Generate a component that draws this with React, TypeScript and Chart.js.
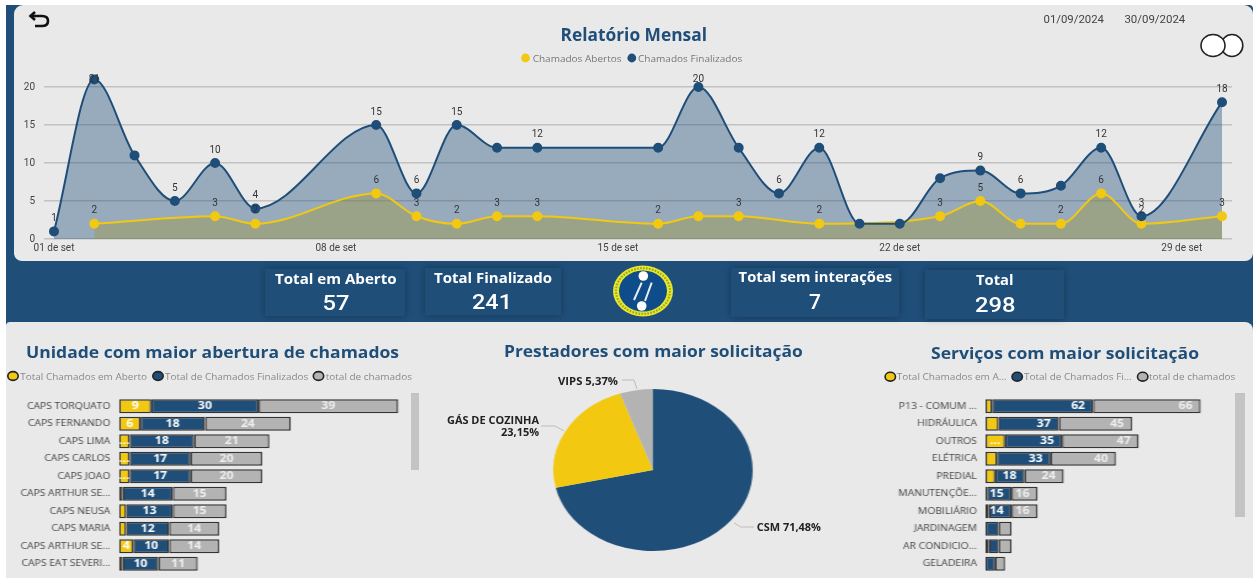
import React, { useEffect, useRef } from "react";
import { Chart, registerables } from "chart.js";

Chart.register(...registerables);

const NAVY = "#1F4E79";
const YELLOW = "#F2C811";
const GRAY = "#B3B3B3";
const PANEL = "#E9E9E9";
const STRETCH = 1.231;

// Monthly report
const finalDays = [1, 2, 3, 4, 5, 6, 9, 10, 11, 12, 13, 16, 17, 18, 19, 20, 21, 22, 23, 24, 25, 26, 27, 28, 30];
const finalValues = [1, 21, 11, 5, 10, 4, 15, 6, 15, 12, 12, 12, 20, 12, 6, 12, 2, 2, 8, 9, 6, 7, 12, 3, 18];
const finalLabelDays = [1, 2, 4, 5, 6, 9, 10, 11, 13, 17, 19, 20, 24, 25, 27, 28, 30];
const openDays = [2, 5, 6, 9, 10, 11, 12, 13, 16, 17, 18, 20, 23, 24, 25, 26, 27, 28, 30];
const openValues = [2, 3, 2, 6, 3, 2, 3, 3, 2, 3, 3, 2, 3, 5, 2, 2, 6, 2, 3];
const openLabelDays = [2, 5, 6, 9, 10, 11, 12, 13, 16, 18, 20, 23, 24, 26, 27, 28, 30];
const dayTicks = [1, 8, 15, 22, 29];
const dayTickLabels = ["01 de set", "08 de set", "15 de set", "22 de set", "29 de set"];

// Units
const unitNames = ["CAPS TORQUATO", "CAPS FERNANDO", "CAPS LIMA", "CAPS CARLOS", "CAPS JOAO", "CAPS ARTHUR SE...", "CAPS NEUSA", "CAPS MARIA", "CAPS ARTHUR SE...", "CAPS EAT SEVERI..."];
const unitOpen = [9, 6, 3, 3, 3, 1, 2, 2, 4, 1];
const unitFinal = [30, 18, 18, 17, 17, 14, 13, 12, 10, 10];
const unitTotal = [39, 24, 21, 20, 20, 15, 15, 14, 14, 11];
const unitOpenLabels = ["9", "6", "…", "…", "…", "", "", "", "4", ""];
const unitFinalLabels = ["30", "18", "18", "17", "17", "14", "13", "12", "10", "10"];
const unitTotalLabels = ["39", "24", "21", "20", "20", "15", "15", "14", "14", "11"];

// Services
const serviceNames = ["P13 - COMUM ...", "HIDRÁULICA", "OUTROS", "ELÉTRICA", "PREDIAL", "MANUTENÇÕE...", "MOBILIÁRIO", "JARDINAGEM", "AR CONDICIO...", "GELADEIRA"];
const serviceOpen = [4, 8, 12, 7, 6, 1, 2, 0, 2, 0];
const serviceFinal = [62, 37, 35, 33, 18, 15, 14, 8, 6, 6];
const serviceTotal = [66, 45, 47, 40, 24, 16, 16, 8, 8, 6];
const serviceOpenLabels = ["", "", "…", "", "", "", "", "", "", ""];
const serviceFinalLabels = ["62", "37", "35", "33", "18", "15", "14", "", "", ""];
const serviceTotalLabels = ["66", "45", "47", "40", "24", "16", "16", "", "", ""];

// Providers
const providerNames = ["CSM", "GÁS DE COZINHA", "VIPS"];
const providerValues = [213, 69, 16];

const clearPadding = (s: any) => {
  s.paddingTop = 0;
  s.paddingBottom = 0;
  s.paddingLeft = 0;
  s.paddingRight = 0;
};

const pointLabelPlugin = {
  id: "pointLabels",
  afterDatasetsDraw(chart: any) {
    const { ctx } = chart;
    ctx.save();
    ctx.font = "10px Roboto";
    ctx.fillStyle = "#333";
    ctx.textAlign = "center";
    ctx.textBaseline = "middle";
    const shown = [finalLabelDays, openLabelDays];
    const days = [finalDays, openDays];
    const vals = [finalValues, openValues];
    [1, 0].forEach((ds) => {
      const meta = chart.getDatasetMeta(ds);
      days[ds].forEach((d, i) => {
        if (!shown[ds].includes(d)) return;
        const el = meta.data[i];
        ctx.fillText(String(vals[ds][i]), el.x, Math.max(el.y - 13, 19));
      });
    });
    ctx.restore();
  },
};

function barLabelPlugin(labels: string[][], endAlign: boolean) {
  return {
    id: "barLabels",
    afterDatasetsDraw(chart: any) {
      const { ctx } = chart;
      ctx.save();
      ctx.font = "bold 10px 'Open Sans'";
      ctx.textBaseline = "middle";
      labels.forEach((row, ds) => {
        const meta = chart.getDatasetMeta(ds);
        ctx.fillStyle = ds === 2 ? "#EFEFEF" : "#FFFFFF";
        row.forEach((t, i) => {
          if (!t) return;
          const el = meta.data[i];
          if (endAlign && t !== "…") {
            ctx.textAlign = "right";
            ctx.fillText(t, el.x - 6.5, el.y);
          } else {
            ctx.textAlign = "center";
            ctx.fillText(t, (el.x + el.base) / 2, el.y);
          }
        });
      });
      ctx.restore();
    },
  };
}

function useLineChart(ref: React.RefObject<HTMLCanvasElement | null>) {
  useEffect(() => {
    const chart = new Chart(ref.current as HTMLCanvasElement, {
      type: "line",
      data: {
        datasets: [
          {
            label: "Chamados Finalizados",
            data: finalDays.map((d, i) => ({ x: d, y: finalValues[i] })),
            borderColor: NAVY,
            backgroundColor: "rgba(31,78,121,0.4)",
            pointBackgroundColor: NAVY,
            pointBorderColor: NAVY,
            pointRadius: 4,
            borderWidth: 2,
            fill: "origin",
            cubicInterpolationMode: "monotone",
          },
          {
            label: "Chamados Abertos",
            data: openDays.map((d, i) => ({ x: d, y: openValues[i] })),
            borderColor: YELLOW,
            backgroundColor: "rgba(242,200,17,0.4)",
            pointBackgroundColor: YELLOW,
            pointBorderColor: YELLOW,
            pointRadius: 4,
            borderWidth: 2,
            fill: "origin",
            cubicInterpolationMode: "monotone",
          },
        ],
      },
      options: {
        responsive: false,
        animation: false,
        layout: { autoPadding: false, padding: { top: 11.8, right: 21, left: 0, bottom: 0 } },
        plugins: { legend: { display: false }, tooltip: { enabled: false }, filler: { drawTime: "beforeDatasetsDraw" } },
        scales: {
          x: {
            type: "linear",
            min: 0.752,
            max: 30.248,
            grid: { display: false, drawTicks: false },
            border: { display: false },
            afterBuildTicks: (s: any) => {
              s.ticks = dayTicks.map((v) => ({ value: v }));
            },
            afterFit: (s: any) => {
              s.height = 22;
              clearPadding(s);
            },
            ticks: {
              autoSkip: false,
              maxRotation: 0,
              padding: 3,
              color: "#444",
              font: { size: 10, family: "Roboto" },
              callback: (v: any) => dayTickLabels[dayTicks.indexOf(Number(v))] ?? "",
            },
          },
          y: {
            min: 0,
            max: 22,
            grid: { color: "#C2C2C2", lineWidth: 1.4, drawTicks: false },
            border: { display: false },
            afterFit: (s: any) => {
              s.width = 44;
              clearPadding(s);
            },
            ticks: { stepSize: 5, includeBounds: false, padding: 9, color: "#444", font: { size: 10, family: "Roboto" } },
          },
        },
      } as any,
      plugins: [pointLabelPlugin],
    } as any);
    return () => chart.destroy();
  }, []);
}

function useBarChart(
  ref: React.RefObject<HTMLCanvasElement | null>,
  names: string[],
  open: number[],
  fin: number[],
  total: number[],
  labels: string[][],
  endAlign: boolean,
  axisWidth: number,
  xMax: number,
) {
  useEffect(() => {
    const common = { borderColor: "#333333", borderWidth: 1.4, borderSkipped: false, barPercentage: 0.79, categoryPercentage: 1 };
    const chart = new Chart(ref.current as HTMLCanvasElement, {
      type: "bar",
      data: {
        labels: names,
        datasets: [
          { label: "Total Chamados em Aberto", data: open, backgroundColor: YELLOW, ...common },
          { label: "Total de Chamados Finalizados", data: fin, backgroundColor: NAVY, ...common },
          { label: "total de chamados", data: total, backgroundColor: GRAY, ...common },
        ],
      },
      options: {
        indexAxis: "y",
        responsive: false,
        animation: false,
        layout: { autoPadding: false, padding: { top: 7.5, bottom: 5.5, left: 0, right: 0 } },
        plugins: { legend: { display: false }, tooltip: { enabled: false } },
        scales: {
          x: { stacked: true, min: 0, max: xMax, display: false },
          y: {
            stacked: true,
            grid: { display: false, drawTicks: false },
            border: { display: false },
            afterFit: (s: any) => {
              s.width = axisWidth;
              clearPadding(s);
            },
            ticks: { autoSkip: false, padding: 7, color: "#444", font: { size: 8.4, family: "'Open Sans'" } },
          },
        },
      } as any,
      plugins: [barLabelPlugin(labels, endAlign)],
    } as any);
    return () => chart.destroy();
  }, []);
}

function usePieChart(ref: React.RefObject<HTMLCanvasElement | null>) {
  useEffect(() => {
    const chart = new Chart(ref.current as HTMLCanvasElement, {
      type: "pie",
      data: {
        labels: providerNames,
        datasets: [{ data: providerValues, backgroundColor: [NAVY, YELLOW, GRAY], borderWidth: 0 }],
      },
      options: {
        responsive: false,
        animation: false,
        layout: { padding: 4 },
        plugins: { legend: { display: false }, tooltip: { enabled: false } },
      },
    } as any);
    return () => chart.destroy();
  }, []);
}

type TProps = { x: number; x2: number; y: number; size: number; fill: string; weight?: number; family?: string; children: string };
function T({ x, x2, y, size, fill, weight = 400, family = "'Open Sans'", children }: TProps) {
  return (
    <text
      x={x}
      y={y}
      textLength={x2 - x}
      lengthAdjust="spacingAndGlyphs"
      dominantBaseline="central"
      fontSize={size}
      fontWeight={weight}
      fontFamily={family}
      fill={fill}
    >
      {children}
    </text>
  );
}

function Dot({ cx, cy, fill }: { cx: number; cy: number; fill: string }) {
  return <ellipse cx={cx} cy={cy} rx={5.2} ry={4.4} fill={fill} stroke="#222" strokeWidth={1.6} />;
}

const cardStyle = (left: number, top: number, w: number, h: number): React.CSSProperties => ({
  position: "absolute",
  left,
  top,
  width: w,
  height: h,
  background: NAVY,
  boxShadow: "0 0 7px rgba(0,0,0,0.3)",
});

export default function App() {
  const lineRef = useRef<HTMLCanvasElement>(null);
  const unitRef = useRef<HTMLCanvasElement>(null);
  const serviceRef = useRef<HTMLCanvasElement>(null);
  const pieRef = useRef<HTMLCanvasElement>(null);
  useLineChart(lineRef);
  useBarChart(unitRef, unitNames, unitOpen, unitFinal, unitTotal, [unitOpenLabels, unitFinalLabels, unitTotalLabels], false, 119 / STRETCH, 81.6);
  useBarChart(serviceRef, serviceNames, serviceOpen, serviceFinal, serviceTotal, [serviceOpenLabels, serviceFinalLabels, serviceTotalLabels], true, 125.5 / STRETCH, 153.4);
  usePieChart(pieRef);

  const abs = (l: number, t: number): React.CSSProperties => ({ position: "absolute", left: l, top: t, display: "block" });

  return (
    <div style={{ position: "fixed", left: 0, top: 0, width: 1253, height: 578, overflow: "hidden", background: "#fff", filter: "blur(0.5px)" }}>
      <div style={{ position: "absolute", left: 6, top: 5, width: 1247, height: 573, background: NAVY, borderTopRightRadius: 4 }} />
      <div style={{ position: "absolute", left: 14, top: 5, width: 1239, height: 256, background: PANEL, borderRadius: "9px 9px 8px 8px" }} />
      <div style={{ position: "absolute", left: 6, top: 322, width: 1247, height: 256, background: PANEL, borderRadius: "4px 8px 0 0" }} />

      <div style={cardStyle(265, 269, 140, 47)} />
      <div style={cardStyle(425, 268, 136, 47)} />
      <div style={cardStyle(731, 268, 168, 49)} />
      <div style={cardStyle(925, 270, 139, 49)} />

      <canvas ref={lineRef} width={1253} height={201} style={abs(0, 60)} />

      <div style={{ position: "absolute", left: 0, top: 390, transformOrigin: "0 0", transform: `scaleX(${STRETCH})` }}>
        <canvas ref={unitRef} width={334} height={188} style={{ display: "block" }} />
      </div>
      <div style={{ position: "absolute", left: 860, top: 390, transformOrigin: "0 0", transform: `scaleX(${STRETCH})` }}>
        <canvas ref={serviceRef} width={305} height={188} style={{ display: "block" }} />
      </div>
      <div style={{ position: "absolute", left: 568, top: 385, width: 170, height: 170, transform: `scaleX(${STRETCH})` }}>
        <canvas ref={pieRef} width={170} height={170} style={{ display: "block" }} />
      </div>

      <div style={{ position: "absolute", left: 411, top: 393, width: 8, height: 77, background: "#C4C4C4" }} />
      <div style={{ position: "absolute", left: 1235, top: 393, width: 10, height: 124, background: "#C4C4C4" }} />

      <svg width={1253} height={578} style={{ position: "absolute", left: 0, top: 0, pointerEvents: "none" }}>
        {/* back arrow */}
        <path d="M31 16 H42 Q48 16 48 21 Q48 26 42 26 H35 M35 12 L30.5 16 L35 20" fill="none" stroke="#111" strokeWidth={2.6} />

        <T x={560.5} x2={707} y={34} size={17} weight={700} fill={NAVY}>Relatório Mensal</T>
        <circle cx={525.5} cy={58} r={4.4} fill={YELLOW} />
        <T x={532.7} x2={621.5} y={58.5} size={9.5} fill="#777">Chamados Abertos</T>
        <circle cx={631.8} cy={58} r={4.4} fill={NAVY} />
        <T x={638} x2={742.3} y={58.5} size={9.5} fill="#777">Chamados Finalizados</T>

        <T x={1043.5} x2={1104} y={19.5} size={11} fill="#444" family="Roboto">01/09/2024</T>
        <T x={1124.4} x2={1185.3} y={19.5} size={11} fill="#444" family="Roboto">30/09/2024</T>

        <ellipse cx={1232} cy={45.5} rx={10.8} ry={11} fill="#fff" stroke="#222" strokeWidth={1.6} />
        <ellipse cx={1213} cy={45.5} rx={12} ry={11} fill="#fff" stroke="#222" strokeWidth={1.6} />

        {/* KPI cards */}
        <T x={275} x2={396.6} y={279} size={13.5} weight={700} fill="#fff">Total em Aberto</T>
        <T x={322.5} x2={349.5} y={303} size={21} weight={500} fill="#fff" family="Roboto">57</T>
        <T x={434} x2={552} y={278} size={13.5} weight={700} fill="#fff">Total Finalizado</T>
        <T x={472} x2={512} y={302} size={21} weight={500} fill="#fff" family="Roboto">241</T>
        <T x={738.6} x2={892} y={277} size={13.5} weight={700} fill="#fff">Total sem interações</T>
        <T x={809} x2={821} y={302} size={21} weight={500} fill="#fff" family="Roboto">7</T>
        <T x={976} x2={1013.4} y={280} size={13.5} weight={700} fill="#fff">Total</T>
        <T x={975} x2={1015.5} y={305} size={21} weight={500} fill="#fff" family="Roboto">298</T>

        {/* logo */}
        <ellipse cx={643} cy={291} rx={30} ry={25.5} fill="#E6E62A" />
        <ellipse cx={643} cy={291} rx={27} ry={22.8} fill="none" stroke="#5A6A2A" strokeWidth={2} strokeDasharray="1.6 1.4" opacity={0.55} />
        <ellipse cx={643} cy={291} rx={24} ry={20.5} fill="#0F4C8A" />
        <circle cx={643.3} cy={276} r={4.8} fill="#fff" />
        <circle cx={641.7} cy={306} r={4.8} fill="#fff" />
        <path d="M641.7 282.7 L634 300 M651.7 282.7 L645 301" stroke="#E8EEF4" strokeWidth={2} />

        {/* section titles */}
        <T x={26} x2={399} y={351.7} size={16.5} weight={700} fill={NAVY}>Unidade com maior abertura de chamados</T>
        <T x={504} x2={802.7} y={350.5} size={16.5} weight={700} fill={NAVY}>Prestadores com maior solicitação</T>
        <T x={931} x2={1199} y={352} size={16.5} weight={700} fill={NAVY}>Serviços com maior solicitação</T>

        {/* left legend */}
        <Dot cx={13} cy={376} fill={YELLOW} />
        <T x={20.3} x2={147} y={376} size={9} fill="#8A8A8A">Total Chamados em Aberto</T>
        <Dot cx={158} cy={376} fill={NAVY} />
        <T x={165} x2={308.3} y={376} size={9} fill="#8A8A8A">Total de Chamados Finalizados</T>
        <Dot cx={318.5} cy={376} fill={GRAY} />
        <T x={325.7} x2={412} y={376} size={9} fill="#8A8A8A">total de chamados</T>

        {/* right legend */}
        <Dot cx={890.3} cy={376.7} fill={YELLOW} />
        <T x={896.7} x2={1006.7} y={376.7} size={9} fill="#8A8A8A">Total Chamados em A...</T>
        <Dot cx={1017.2} cy={376.7} fill={NAVY} />
        <T x={1024} x2={1131.7} y={376.7} size={9} fill="#8A8A8A">Total de Chamados Fi...</T>
        <Dot cx={1142.7} cy={376.7} fill={GRAY} />
        <T x={1149} x2={1235.3} y={376.7} size={9} fill="#8A8A8A">total de chamados</T>

        {/* pie labels */}
        <path d="M622 380 H634 L637 389 M541 426 H555 L564 431 M734 523 L741 527 H754" fill="none" stroke="#BDBDBD" strokeWidth={1} />
        <T x={558} x2={618} y={380.7} size={10} weight={700} fill="#222">VIPS 5,37%</T>
        <T x={447} x2={539} y={420} size={10} weight={700} fill="#222">GÁS DE COZINHA</T>
        <T x={501} x2={539} y={431.7} size={10} weight={700} fill="#222">23,15%</T>
        <T x={756.7} x2={821} y={526.7} size={10} weight={700} fill="#222">CSM 71,48%</T>
      </svg>
    </div>
  );
}
